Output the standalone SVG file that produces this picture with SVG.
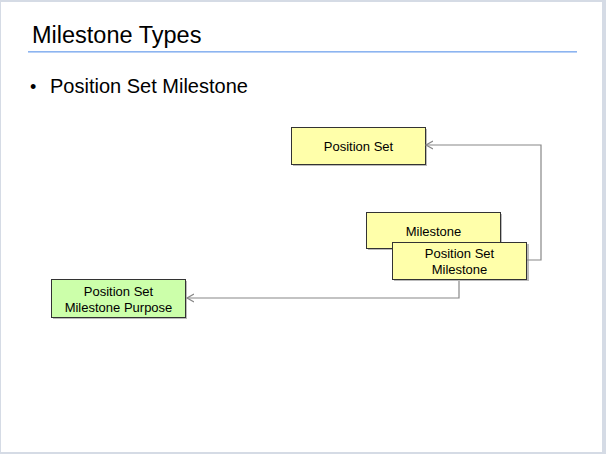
<svg xmlns="http://www.w3.org/2000/svg" width="606" height="454" viewBox="0 0 606 454">
<style>
.box{stroke:#333;stroke-width:1}
.y{fill:#ffffaa}
.g{fill:#ccffaa}
.sh{fill:#bbbbbb}
.t{font-family:"Liberation Sans",Arial,sans-serif;font-size:13px;fill:#000;text-anchor:middle}
.c{fill:none;stroke:#888;stroke-width:1.2}
</style>
<defs>
<marker id="a" markerWidth="10" markerHeight="10" refX="7" refY="5" orient="auto" markerUnits="userSpaceOnUse">
<path d="M0,1 L7,5 L0,9" fill="none" stroke="#888" stroke-width="1.2"/>
</marker>
</defs>
<rect x="0" y="0" width="606" height="454" fill="#d5dbe5"/>
<rect x="1" y="2" width="601" height="450" fill="#fff"/>
<text x="32" y="42.5" font-family="Liberation Sans,Arial,sans-serif" font-size="23.5" fill="#000">Milestone Types</text>
<rect x="28" y="51" width="549" height="1.6" fill="#8cb4f0"/>
<text x="30" y="93" font-family="Liberation Sans,Arial,sans-serif" font-size="18" fill="#000">•</text>
<text x="50" y="93" font-family="Liberation Sans,Arial,sans-serif" font-size="20" fill="#000">Position Set Milestone</text>
<g id="position-set">
<rect class="sh" x="293" y="129" width="134" height="37"/>
<rect class="box y" x="291.5" y="127.5" width="134" height="37"/>
<text class="t" x="358.5" y="150.5">Position Set</text>
</g>
<g id="milestone">
<rect class="sh" x="368" y="214" width="134" height="36"/>
<rect class="box y" x="366.5" y="212.5" width="134" height="36"/>
<text class="t" x="433.5" y="236">Milestone</text>
</g>
<g id="position-set-milestone">
<rect class="sh" x="394" y="244" width="135" height="37"/>
<rect class="box y" x="392.5" y="242.5" width="134" height="37"/>
<text class="t" x="459.5" y="257.5">Position Set</text>
<text class="t" x="459.5" y="273.5">Milestone</text>
</g>
<g id="position-set-milestone-purpose">
<rect class="sh" x="53" y="281" width="134" height="38"/>
<rect class="box g" x="51.5" y="279.5" width="134" height="38"/>
<text class="t" x="118.5" y="296">Position Set</text>
<text class="t" x="118.5" y="312">Milestone Purpose</text>
</g>
<g id="connectors">
<path class="c" d="M527,260 H541 V145 H426" marker-end="url(#a)"/>
<path class="c" d="M459,281 V298 H187" marker-end="url(#a)"/>
</g>
</svg>
